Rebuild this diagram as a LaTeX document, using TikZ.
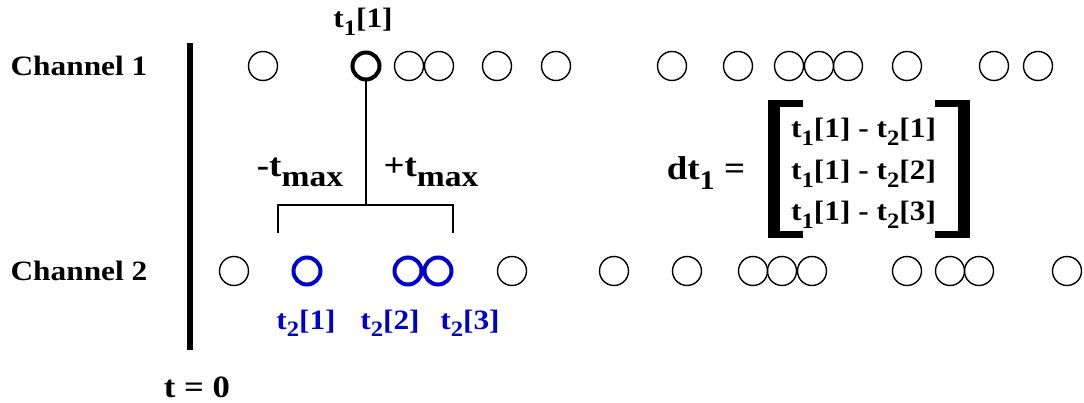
\documentclass[tikz,border=0pt]{standalone}
\usepackage{fontspec}
\setmainfont[FakeStretch=1.12]{Liberation Serif}
\definecolor{tblue}{RGB}{0,0,204}
\newcommand\lsub[2][22]{\raisebox{-0.28em}{\fontsize{#1}{#1}\selectfont #2}}
\begin{document}
\begin{tikzpicture}[x=1pt,y=-1pt,
  lbl/.style={font=\fontsize{28}{30}\selectfont\bfseries, inner sep=0pt, anchor=base},
  big/.style={lbl, font=\fontsize{33}{35}\selectfont\bfseries},
  ev/.style={circle, draw=black, line width=1.4pt, minimum size=29pt, inner sep=0pt},
  evbold/.style={ev, line width=4pt, minimum size=27pt},
  evblue/.style={ev, draw=tblue, line width=4pt, minimum size=27pt},
  wire/.style={line width=2pt}]
\useasboundingbox (0,0) rectangle (1084,403);
% time axis
\fill (187,43) rectangle (193,350);
% labels
\node[lbl] (ch1) at (79,76) {Channel 1};
\node[lbl] (ch2) at (79,281) {Channel 2};
\node[lbl, font=\fontsize{31}{33}\selectfont\bfseries] (tz) at (197,397) {t = 0};
\node[lbl] (t11) at (363,28) {t\lsub{1}[1]};
% channel 1 events
\foreach \x [count=\i] in {263,409,439,497,556,672,738,789,819,848,907,994,1038}
  \node[ev] (a\i) at (\x,66) {};
\node[evbold] (tone) at (366,66) {};
% channel 2 events
\foreach \x [count=\i] in {234,512,614,687,753,782,812,907,950,979,1067}
  \node[ev] (b\i) at (\x,271) {};
\node[evblue] (u1) at (307,271) {};
\node[evblue] (u2) at (408,271) {};
\node[evblue] (u3) at (438,271) {};
% window bracket
\coordinate (bm) at (366,205);
\coordinate (bl) at (278,233);
\coordinate (br) at (453,233);
\draw[wire] (tone.south) -- (bm);
\draw[wire] (bl) |- (bm) -| (br);
\node[big] (mn) at (300,177) {-t\lsub[30]{max}};
\node[big] (pl) at (431,177) {+t\lsub[30]{max}};
% blue labels
\node[lbl, text=tblue] (l1) at (306,329) {t\lsub{2}[1]};
\node[lbl, text=tblue] (l2) at (390,329) {t\lsub{2}[2]};
\node[lbl, text=tblue] (l3) at (470,329) {t\lsub{2}[3]};
% matrix
\node[big] (dt) at (706,180) {dt\lsub[27]{1} =};
\fill (768,100) rectangle (780,238);
\fill (768,100) rectangle (803,107);
\fill (768,231) rectangle (803,238);
\fill (958,100) rectangle (970,238);
\fill (935,100) rectangle (970,107);
\fill (935,231) rectangle (970,238);
\node[lbl, anchor=base west] (r1) at (791,138) {t\lsub{1}[1] - t\lsub{2}[1]};
\node[lbl, anchor=base west] (r2) at (791,180) {t\lsub{1}[1] - t\lsub{2}[2]};
\node[lbl, anchor=base west] (r3) at (791,221) {t\lsub{1}[1] - t\lsub{2}[3]};
\end{tikzpicture}
\end{document}
